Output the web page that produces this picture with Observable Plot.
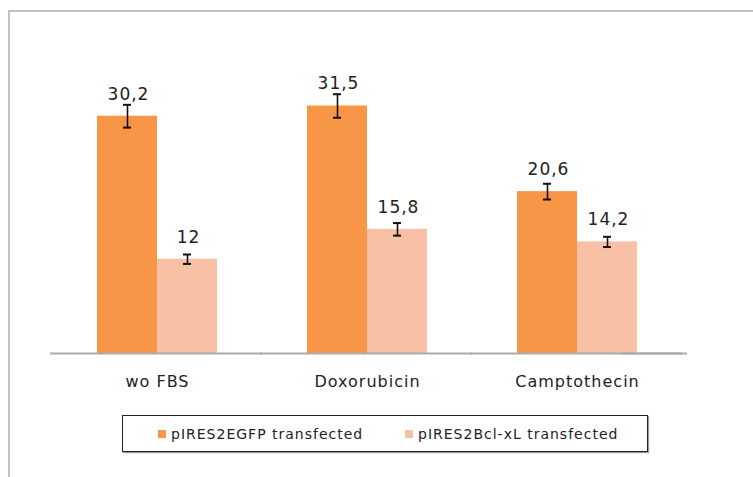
<!DOCTYPE html>
<html><head><meta charset="utf-8">
<script src="https://cdn.jsdelivr.net/npm/d3@7"></script>
<script src="https://cdn.jsdelivr.net/npm/@observablehq/plot@0.6"></script>
<style>
body{margin:0;background:#fff;width:753px;height:477px;overflow:hidden;position:relative;font-family:"DejaVu Sans",sans-serif;}
#frame{position:absolute;left:8px;top:10px;width:800px;height:520px;border:2px solid #c2c2c2;box-sizing:border-box;}
#chart{position:absolute;left:0;top:0;}
#legend{position:absolute;left:122px;top:415px;width:526px;height:37px;border:1px solid #222;box-sizing:border-box;box-shadow:1px 1px 1px #999;background:#fff;}
.item{position:absolute;top:0;height:35px;display:flex;align-items:center;font-size:14px;letter-spacing:1px;color:#222;}
.sw{width:8px;height:8px;margin-right:5px;}
</style></head><body>
<div id="frame"></div>
<div id="chart"></div>
<div id="legend"></div>
<script>
const categories = ["wo FBS", "Doxorubicin", "Camptothecin"];
const series = ["pIRES2EGFP transfected", "pIRES2Bcl-xL transfected"];
const egfpValues = [30.2, 31.5, 20.6];
const bclValues = [12, 15.8, 14.2];
const egfpErrors = [1.45, 1.5, 1.0];
const bclErrors = [0.6, 0.8, 0.65];
const colors = ["#F79646", "#F8C0A4"];

const data = [];
categories.forEach((c, i) => {
  data.push({category: c, series: series[0], value: egfpValues[i], err: egfpErrors[i]});
  data.push({category: c, series: series[1], value: bclValues[i], err: bclErrors[i]});
});
const fmt = v => String(v).replace(".", ",");

const chart = Plot.plot({
  width: 753, height: 400,
  marginLeft: 52, marginRight: 71, marginTop: 78, marginBottom: 47,
  style: {fontFamily: "DejaVu Sans", fontSize: "16px", letterSpacing: "1px", color: "#222", background: "transparent"},
  fx: {domain: categories, padding: 0, label: null, axis: "bottom", tickSize: 0, tickPadding: 22},
  x: {domain: series, paddingInner: 0, paddingOuter: 0.75, axis: null},
  y: {domain: [0, 35], axis: null},
  color: {domain: series, range: colors},
  marks: [
    Plot.barY(data, {fx: "category", x: "series", y: "value", fill: "series"}),
    Plot.ruleY([0], {stroke: "#ababab", strokeWidth: 2, insetLeft: -2}),
    Plot.ruleY([{category: categories[2]}], {fx: "category", y: 0, stroke: "#ababab", strokeWidth: 2, insetLeft: 150, insetRight: -5}),
    Plot.ruleX(data, {fx: "category", x: "series", y1: d => d.value - d.err, y2: d => d.value + d.err, stroke: "#111", strokeWidth: 1.6}),
    Plot.tickY(data, {fx: "category", x: "series", y: d => d.value + d.err, inset: 26, stroke: "#111", strokeWidth: 2}),
    Plot.tickY(data, {fx: "category", x: "series", y: d => d.value - d.err, inset: 26, stroke: "#111", strokeWidth: 2}),
    Plot.text(data, {fx: "category", x: "series", y: "value", text: d => fmt(d.value), dy: -22, dx: 1, fontSize: 17, fill: "#222"})
  ]
});
document.getElementById("chart").appendChild(chart);

const legend = document.getElementById("legend");
const offsets = [35, 282];
series.forEach((s, i) => {
  const it = document.createElement("div");
  it.className = "item";
  it.style.left = offsets[i] + "px";
  it.innerHTML = `<span class="sw" style="background:${colors[i]}"></span><span>${s}</span>`;
  legend.appendChild(it);
});
</script>
</body></html>
